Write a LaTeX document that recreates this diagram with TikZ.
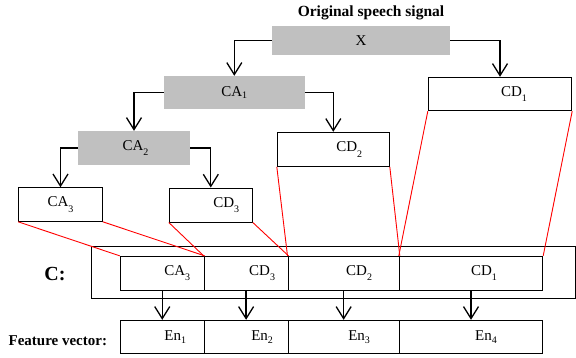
\documentclass[tikz,border=0pt]{standalone}
\usepackage{fontspec}
\setmainfont{Liberation Serif}
\usetikzlibrary{arrows.meta}
\newcommand{\subA}[1]{\raisebox{-2.5pt}{\fontsize{10}{10}\selectfont #1}}
\newcommand{\subB}[1]{\raisebox{-5.5pt}{\fontsize{10}{10}\selectfont #1}}
\definecolor{boxgray}{RGB}{192,192,192}
\tikzset{
  base/.style={inner sep=0pt, font=\fontsize{15}{15}\selectfont},
  graybox/.style={base, fill=boxgray, draw=none},
  whitebox/.style={base, draw=black, line width=1pt, fill=white},
  cell/.style={base, draw=black, line width=1pt},
  flow/.style={draw=black, line width=1.3pt, -{Straight Barb[length=12pt,width=15pt,line width=1.3pt]}},
  redline/.style={draw=red, line width=0.9pt},
  boldlab/.style={inner sep=0pt, font=\bfseries\fontsize{15}{15}\selectfont}
}
\begin{document}
\begin{tikzpicture}[x=1pt,y=-1pt]
\useasboundingbox (0,0) rectangle (576,357);
% title
\node[boldlab, font=\bfseries\fontsize{15.5}{15.5}\selectfont] (title) at (371,13) {Original speech signal};
% tree boxes
\node[graybox, minimum width=178pt, minimum height=29.3pt] (X) at (361,40.7) {X};
\node[graybox, minimum width=140.7pt, minimum height=33pt] (CA1) at (234.3,92.5) {CA\subA{1}};
\node[whitebox, minimum width=143.4pt, minimum height=33.4pt, label={[base,xshift=14pt]center:CD\subB{1}}] (CD1) at (500,94) {};
\node[graybox, minimum width=112pt, minimum height=34pt] (CA2) at (134,148) {\hspace*{3pt}CA\subB{2}};
\node[whitebox, minimum width=112pt, minimum height=34pt, label={[base,xshift=16pt]center:CD\subB{2}}] (CD2) at (333.3,149.3) {};
\node[whitebox, minimum width=83.6pt, minimum height=33.6pt, label={[base]center:CA\subB{3}}] (CA3) at (60.5,204.5) {};
\node[whitebox, minimum width=83pt, minimum height=34pt, label={[base,xshift=15.5pt]center:CD\subB{3}}] (CD3) at (210.8,205) {};
% C container
\node[cell, minimum width=483.7pt, minimum height=52.7pt] (Cbox) at (333.2,272.4) {};
\node[boldlab, font=\bfseries\fontsize{20}{20}\selectfont] (Clab) at (55,274.3) {C:};
\node[cell, minimum width=83.9pt, minimum height=33.7pt, label={[base,xshift=15pt]center:CA\subB{3}}] (c1) at (162.25,273.2) {};
\node[cell, minimum width=83.8pt, minimum height=33.7pt, label={[base,xshift=16pt]center:CD\subB{3}}] (c2) at (246.1,273.2) {};
\node[cell, minimum width=111.3pt, minimum height=33.7pt, label={[base,xshift=15.5pt]center:CD\subB{2}}] (c3) at (343.65,273.2) {};
\node[cell, minimum width=143.4pt, minimum height=33.7pt, label={[base,xshift=13pt]center:CD\subB{1}}] (c4) at (471,273.2) {};
% feature vector
\node[boldlab] (Flab) at (57.8,341) {Feature vector:};
\node[cell, minimum width=83.9pt, minimum height=33.4pt, label={[base,xshift=13pt]center:En\subA{1}}] (f1) at (162.25,337) {};
\node[cell, minimum width=83.8pt, minimum height=33.4pt, label={[base,xshift=16pt]center:En\subA{2}}] (f2) at (246.1,337) {};
\node[cell, minimum width=111.3pt, minimum height=33.4pt, label={[base,xshift=15.5pt]center:En\subA{3}}] (f3) at (343.65,337) {};
\node[cell, minimum width=143.4pt, minimum height=33.4pt, label={[base,xshift=15pt]center:En\subA{4}}] (f4) at (471,337) {};
% tree connectors
\draw[flow] (X.west) -| (CA1.north);
\draw[flow] (X.east) -| (CD1.north);
\draw[flow] (CA1.west) -| (CA2.north);
\draw[flow] (CA1.east) -| (CD2.north);
\draw[flow] (CA2.west) -| (CA3.north);
\draw[flow] (CA2.east) -| (CD3.north);
% C to feature
\draw[flow] (c1.south) -- (f1.north);
\draw[flow] (c2.south) -- (f2.north);
\draw[flow] (c3.south) -- (f3.north);
\draw[flow] (c4.south) -- (f4.north);
% red mapping lines
\draw[redline] (CA3.south west) -- (c1.north west);
\draw[redline] (CA3.south east) -- (c1.north east);
\draw[redline] (CD3.south west) -- (c2.north west);
\draw[redline] (CD3.south east) -- (c2.north east);
\draw[redline] (CD2.south west) -- (c3.north west);
\draw[redline] (CD2.south east) -- (c3.north east);
\draw[redline] (CD1.south west) -- (c4.north west);
\draw[redline] (CD1.south east) -- (c4.north east);
\end{tikzpicture}
\end{document}
